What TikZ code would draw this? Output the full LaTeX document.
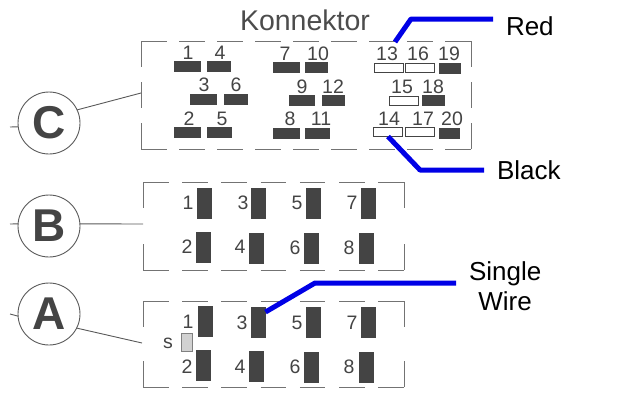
\documentclass[tikz,border=0pt]{standalone}
\usepackage{fontspec}
\setmainfont{Liberation Sans}
\usetikzlibrary{positioning}
\definecolor{inkgray}{HTML}{444444}
\definecolor{wireblue}{HTML}{0000E6}
\tikzset{
x=1pt, y=-1pt, % same grid as the scan, y runs down
every node/.style={inner sep=0pt, outer sep=0pt},
framebit/.style={draw=black!55, line width=1pt}, % dashed connector outline
leader/.style={draw=black!65, line width=0.9pt}, % thin lines at the circles
plugcircle/.style={circle, draw=black!65, line width=0.9pt, minimum size=62pt, text=inkgray, font=\fontsize{46}{50}\selectfont\bfseries},
pinlabel/.style={text=inkgray, font=\fontsize{19.5}{22}\selectfont},
pinfull/.style={draw=inkgray, fill=inkgray, line width=0.4pt},
pinopen/.style={draw=inkgray, fill=white, line width=1pt},
wire/.style={draw=wireblue, line width=5pt, line join=round}, % thick blue marks
wirelabel/.style={text=black, inner xsep=13pt, align=center, font=\fontsize{26}{30}\selectfont},
}
\begin{document}
\begin{tikzpicture}
    \useasboundingbox (0,0) rectangle (618,402);
    \node[text=black!70, font=\fontsize{28.5}{32}\selectfont] (title) at (305,20) {Konnektor};
    % outlines
    \foreach \xa/\xb/\ya/\yb/\hd/\hg/\vd/\vg in {141/471/41/149.5/26/12/26/15, 143/404/182/270/25.5/13.7/26/36, 143/404/301/387/25.5/13.7/26/34}{
        \draw[framebit, dash pattern=on \hd pt off \hg pt] (\xa,\ya) -- (\xb,\ya);
        \draw[framebit, dash pattern=on \hd pt off \hg pt] (\xa,\yb) -- (\xb,\yb);
        \draw[framebit, dash pattern=on \vd pt off \vg pt] (\xa,\ya) -- (\xa,\yb);
        \draw[framebit, dash pattern=on \vd pt off \vg pt] (\xb,\ya) -- (\xb,\yb);
    }
    % row of flat pins, filled
    \foreach \n/\lx/\ly/\px/\py/\w in {1/188/53/187/66/26, 4/220/53/218.5/66/23, 7/285/54/286/67/26, 10/318/54/316/67/22,
        3/204/85/203/99/26, 6/236/85/235.5/99/23, 9/302/87/301.5/100/25, 12/333/87/333/100/22,
        2/189/119/187/132.5/26, 5/222/119/219/132.5/24, 8/290/119/286/133.5/26, 11/321/119/317/133.5/24,
        19/449/54/449.5/68/21, 18/433/87/433/100.5/22, 20/452/119/449/133/20}{
        \node[pinfull, minimum width=\w pt, minimum height=10pt] (pinC\n) at (\px,\py) {};
        \node[pinlabel] (labC\n) at (\lx,\ly) {\n};
    }
    % flat pins, open
    \foreach \n/\lx/\ly/\px/\py in {13/387/54/388.5/67.5, 16/418/54/420/67.5, 15/402/87/403.5/100.5, 14/389/119/388/132, 17/423/119/420/132}{
        \node[pinopen, minimum width=29pt, minimum height=9pt] (pinC\n) at (\px,\py) {};
        \node[pinlabel] (labC\n) at (\lx,\ly) {\n};
    }
    % upright pins of B
    \foreach \n/\lx/\ly/\px/\py in {1/188/203/204.5/203, 2/187/247/203/247, 3/243/203/258/203, 4/240/247/256/248,
        5/297/203/313/203, 6/295/248/311/248, 7/352/203/368/203, 8/349/248/366/248}{
        \node[pinfull, minimum width=14pt, minimum height=30pt] (pinB\n) at (\px,\py) {};
        \node[pinlabel] (labB\n) at (\lx,\ly) {\n};
    }
    % upright pins of A
    \foreach \n/\lx/\ly/\px/\py in {1/188/322/205/321, 2/187/367/203/365.5, 3/242/323/258.5/322, 4/240/367/256.5/366.5,
        5/297/323/313/322, 6/295/367/311/367, 7/352/323/368/322, 8/349/367/366/367}{
        \node[pinfull, minimum width=14pt, minimum height=30pt] (pinA\n) at (\px,\py) {};
        \node[pinlabel] (labA\n) at (\lx,\ly) {\n};
    }
    \node[draw=black!50, fill=black!18, line width=0.8pt, minimum width=11pt, minimum height=18pt] (pinS) at (187,342.5) {};
    \node[pinlabel] (labS) at (168,343) {s};
    % circles
    \node[plugcircle] (circC) at (49,123) {C};
    \node[plugcircle] (circB) at (49,226) {B};
    \node[plugcircle] (circA) at (49,314) {A};
    \coordinate (stubC) at (10,127);
    \coordinate (stubB) at (10,224);
    \coordinate (stubA) at (10,314);
    \coordinate (edgeC) at (141,93);
    \coordinate (edgeB) at (143,224);
    \coordinate (edgeA) at (142,343);
    \draw[leader]
        (stubC) -- (circC.187)
        (circC.25) -- (edgeC)
        (stubB) -- (circB.176)
        (circB.4) -- (edgeB)
        (stubA) -- (circA.184)
        (circA.333) -- (edgeA)
        ;
    % blue wires
    \node[wirelabel, anchor=west] (red) at (493,26) {Red};
    \node[wirelabel, anchor=west] (black) at (484,170) {Black};
    \node[wirelabel, anchor=west] (single) at (456,286) {Single\\Wire};
    \coordinate (tipRed) at (395,42);
    \coordinate (kneeRed) at (411,19);
    \coordinate (kneeBlack) at (420,170);
    \coordinate (kneeSingle) at (315,283);
    \draw[wire] (tipRed) -- (kneeRed) -- (kneeRed -| red.west);
    \draw[wire] (pinC14.south) -- (kneeBlack) -- (black.west);
    \draw[wire] ([yshift=-5pt]pinA3.north east) -- (kneeSingle) -- (kneeSingle -| single.west);
\end{tikzpicture}
\end{document}
